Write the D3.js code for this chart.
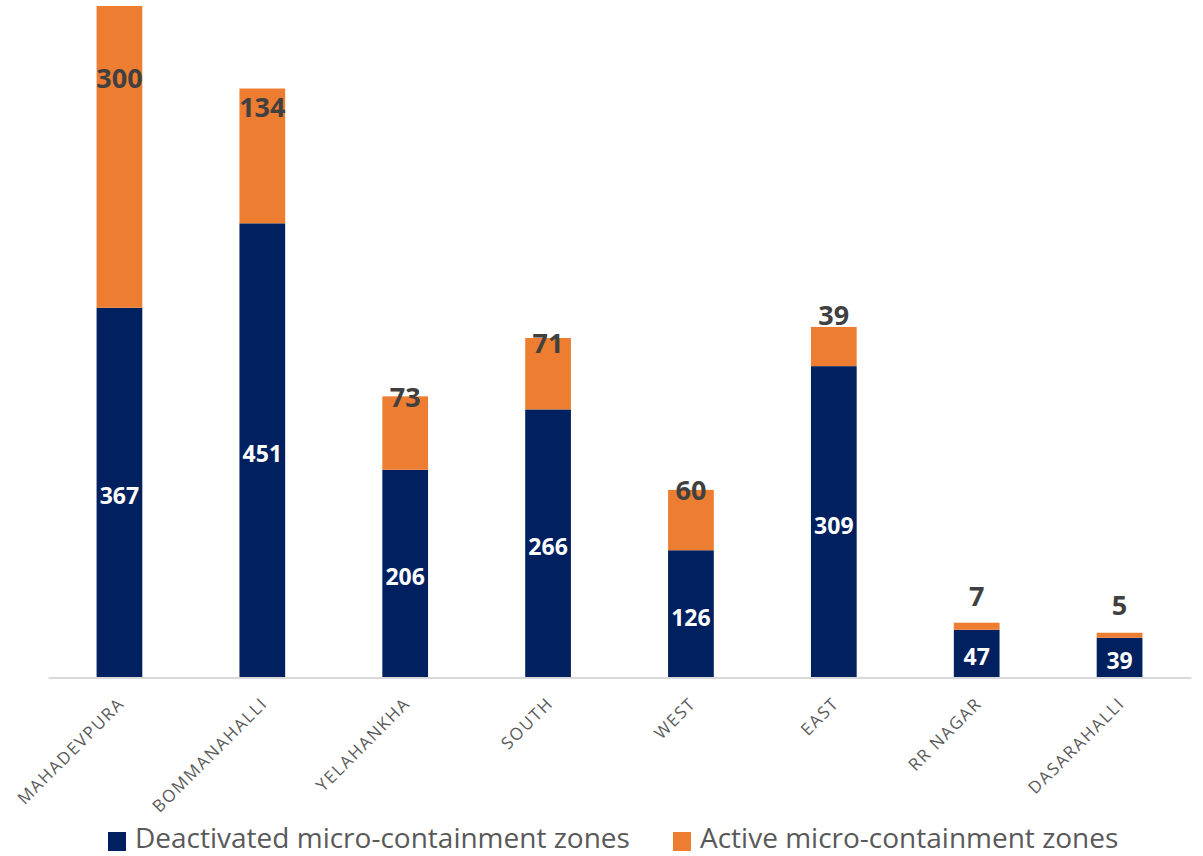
<!DOCTYPE html>
<html>
<head>
<meta charset="utf-8">
<script src="https://cdn.jsdelivr.net/npm/d3@7"></script>
<style>
  body { margin: 0; background: #fff; }
  text { font-family: 'Open Sans', 'Noto Sans', sans-serif; }
</style>
</head>
<body>
<script>
// Zones per BBMP division
const zones = ['MAHADEVPURA', 'BOMMANAHALLI', 'YELAHANKHA', 'SOUTH', 'WEST', 'EAST', 'RR NAGAR', 'DASARAHALLI'];
const deactivated = [367, 451, 206, 266, 126, 309, 47, 39];
const active = [300, 134, 73, 71, 60, 39, 7, 5];
const seriesNames = ['Deactivated micro-containment zones', 'Active micro-containment zones'];

// label nudges (px from top of stack), as placed in the original
const activeLabelShift = [71, 18, 0, 5, 0, -12, -27, -28];

const fullWidth = 1203;
const fullHeight = 856;
const colors = ['#002060', '#ED7D31'];

const svg = d3.select('body')
  .append('svg')
  .attr('width', fullWidth)
  .attr('height', fullHeight);

const x = d3.scaleBand()
  .domain(zones)
  .range([48, 1191])
  .paddingInner(0.68)
  .paddingOuter(0.34);

const y = d3.scaleLinear()
  .domain([0, 670])
  .range([677, 3]);

const rows = zones.map((z, i) => ({ zone: z, deactivated: deactivated[i], active: active[i] }));
const stack = d3.stack().keys(['deactivated', 'active'])(rows);

// Bars
const layers = svg.selectAll('g.layer')
  .data(stack)
  .enter()
  .append('g')
  .attr('class', 'layer')
  .attr('fill', (d, i) => colors[i]);

layers.selectAll('rect')
  .data(d => d)
  .enter()
  .append('rect')
  .attr('x', d => x(d.data.zone))
  .attr('y', d => y(d[1]))
  .attr('width', x.bandwidth())
  .attr('height', d => y(d[0]) - y(d[1]));

// Axis
const axis = svg.append('g')
  .attr('transform', `translate(0, ${y(0) + 0.5})`)
  .call(d3.axisBottom(x).tickSize(0).tickSizeOuter(0));

axis.select('.domain')
  .attr('stroke', '#d9d9d9')
  .attr('stroke-width', 2);

axis.selectAll('.tick text')
  .attr('font-family', "'Open Sans', sans-serif")
  .attr('font-size', 17)
  .attr('letter-spacing', 1.6)
  .attr('fill', '#595959')
  .attr('text-anchor', 'end')
  .attr('dy', 0)
  .attr('transform', 'translate(4, 25) rotate(-45)');

// Deactivated labels (centred, white)
svg.append('g')
  .selectAll('text')
  .data(stack[0])
  .enter()
  .append('text')
  .attr('x', d => x(d.data.zone) + x.bandwidth() / 2)
  .attr('y', d => (y(d[0]) + y(d[1])) / 2 + 3)
  .attr('text-anchor', 'middle')
  .attr('dominant-baseline', 'central')
  .attr('font-size', 23)
  .attr('font-weight', 'bold')
  .attr('fill', '#fff')
  .text(d => d.data.deactivated);

// Active labels (dark gray)
svg.append('g')
  .selectAll('text')
  .data(stack[1])
  .enter()
  .append('text')
  .attr('x', d => x(d.data.zone) + x.bandwidth() / 2)
  .attr('y', (d, i) => y(d[1]) + activeLabelShift[i])
  .attr('text-anchor', 'middle')
  .attr('dominant-baseline', 'central')
  .attr('font-size', 27)
  .attr('font-weight', 'bold')
  .attr('fill', '#404040')
  .text(d => d.data.active);

// Legend
const legX = [108, 673];
const leg = svg.append('g').attr('class', 'legend');

leg.selectAll('rect')
  .data(seriesNames)
  .enter()
  .append('rect')
  .attr('x', (d, i) => legX[i])
  .attr('y', 832)
  .attr('width', 18)
  .attr('height', 19)
  .attr('fill', (d, i) => colors[i]);

leg.selectAll('text')
  .data(seriesNames)
  .enter()
  .append('text')
  .attr('x', (d, i) => legX[i] + 27)
  .attr('y', 848)
  .attr('font-size', 28)
  .attr('fill', '#595959')
  .text(d => d);
</script>
</body>
</html>
